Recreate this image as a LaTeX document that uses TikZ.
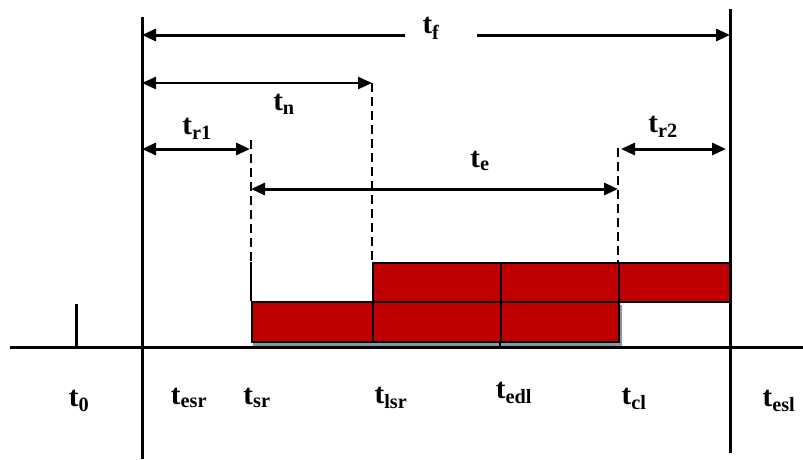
\documentclass[tikz,border=0pt]{standalone}
\usepackage{fontspec}
\setmainfont{Liberation Serif}
\usetikzlibrary{arrows.meta}
\definecolor{barred}{HTML}{C00000}
\definecolor{shadow}{HTML}{8A96A6}
\tikzset{
  lbl/.style={font=\fontsize{29}{32}\selectfont\bfseries, inner sep=1pt},
  dim/.style={line width=3pt, {Triangle[length=14pt,width=12pt]}-{Triangle[length=14pt,width=12pt]}},
  dimone/.style={line width=3pt, -{Triangle[length=14pt,width=12pt]}},
  guide/.style={line width=2.4pt, dash pattern=on 9pt off 5pt},
  bar/.style={fill=barred, draw=black, line width=2.4pt},
  axis/.style={line width=3pt},
}
\begin{document}
\begin{tikzpicture}[x=1pt,y=-1pt]
\useasboundingbox (0,0) rectangle (803,459);
% axis and bounds
\coordinate (axL) at (10,347);
\coordinate (axR) at (803,347);
\coordinate (lT) at (142,17);
\coordinate (lB) at (142,459);
\coordinate (rT) at (730,9);
\coordinate (rB) at (730,453);
\coordinate (t0T) at (76,304);
\coordinate (t0B) at (76,347);
% shadow under lower bars
\draw[shadow, line width=3pt] (253,344) -- (620,344) -- (620,305);
% bars
\node[bar, minimum width=121pt, minimum height=40pt, inner sep=0pt, anchor=north west] (b1) at (251,301) {};
\node[bar, minimum width=128pt, minimum height=40pt, inner sep=0pt, anchor=north west] (b2) at (372,301) {};
\node[bar, minimum width=118pt, minimum height=40pt, inner sep=0pt, anchor=north west] (b3) at (500,301) {};
\node[bar, minimum width=128pt, minimum height=39pt, inner sep=0pt, anchor=north west] (u1) at (372,262) {};
\node[bar, minimum width=118pt, minimum height=39pt, inner sep=0pt, anchor=north west] (u2) at (500,262) {};
\node[bar, minimum width=112pt, minimum height=39pt, inner sep=0pt, anchor=north west] (u3) at (618,262) {};
\draw[line width=2.4pt] (b3.south west) -- (500,347);
\draw[axis] (axL) -- (axR);
\draw[axis] (lT) -- (lB);
\draw[axis] (rT) -- (rB);
\draw[axis] (t0T) -- (t0B);
% guides
\coordinate (gsrT) at (251,140);
\coordinate (gsrM) at (251,262);
\draw[guide] (gsrT) -- (gsrM);
\draw[line width=2.4pt] (gsrM) -- (b1.north west);
\coordinate (glsrT) at (372,83);
\draw[guide] (glsrT) -- (u1.north west);
\coordinate (gclT) at (618,148);
\draw[guide] (gclT) -- (u3.north west);
% dimension arrows
\coordinate (tfL) at (142,35);
\coordinate (tfA) at (405,35);
\coordinate (tfB) at (477,35);
\coordinate (tfR) at (730,35);
\draw[dimone] (tfA) -- (tfL);
\draw[dimone] (tfB) -- (tfR);
\node[lbl] (tf) at (431,28) {t\textsubscript{f}};
\coordinate (tnL) at (142,83);
\draw[dim, line width=2.4pt] (tnL) -- (glsrT);
\node[lbl] (tn) at (284,104) {t\textsubscript{n}};
\coordinate (tr1L) at (142,149);
\coordinate (tr1R) at (250,149);
\draw[dim] (tr1L) -- (tr1R);
\node[lbl] (tr1) at (197,129) {t\textsubscript{r1}};
\coordinate (teL) at (251,189);
\coordinate (teR) at (618,189);
\draw[dim] (teL) -- (teR);
\node[lbl] (te) at (480,161) {t\textsubscript{e}};
\coordinate (tr2L) at (621,149);
\coordinate (tr2R) at (726,149);
\draw[dim] (tr2L) -- (tr2R);
\node[lbl] (tr2) at (663,127) {t\textsubscript{r2}};
% bottom labels
\node[lbl] (l0) at (79,401) {t\textsubscript{0}};
\node[lbl] (lesr) at (189,398) {t\textsubscript{esr}};
\node[lbl] (lsr) at (257,398) {t\textsubscript{sr}};
\node[lbl] (llsr) at (391,398) {t\textsubscript{lsr}};
\node[lbl] (ledl) at (514,393) {t\textsubscript{edl}};
\node[lbl] (lcl) at (634,399) {t\textsubscript{cl}};
\node[lbl] (lesl) at (779,401) {t\textsubscript{esl}};
\end{tikzpicture}
\end{document}
